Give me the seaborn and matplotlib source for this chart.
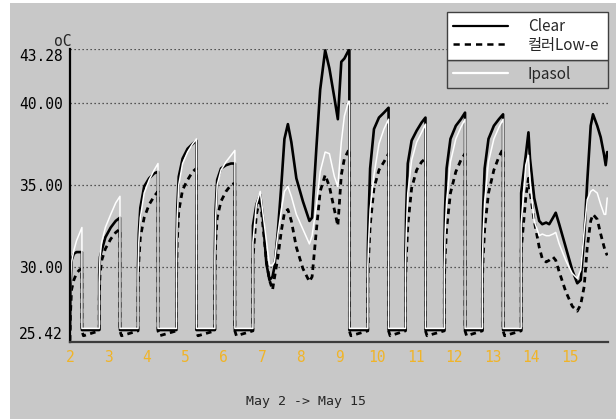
import matplotlib
matplotlib.use("Agg")
import matplotlib.pyplot as plt
import seaborn as sns
import pandas as pd
from matplotlib.lines import Line2D
from matplotlib.patches import Rectangle

# ---------------- data ----------------
series_names = ["Clear", "컬러Low-e", "Ipasol"]
day_ticks = [2, 3, 4, 5, 6, 7, 8, 9, 10, 11, 12, 13, 14, 15]
y_ticks = [25.42, 30.00, 35.00, 40.00, 43.28]
x_label = "May 2 -> May 15"
y_unit = "oC"

# time in days of May
t = [
    2.00, 2.01, 2.04, 2.10, 2.17, 2.24, 2.31,
    2.31, 2.35, 2.76,
    2.76, 2.78, 2.825, 2.92, 3.06, 3.19, 3.30,
    3.30, 3.34, 3.77,
    3.77, 3.79, 3.83, 3.93, 4.06, 4.19, 4.29,
    4.29, 4.33, 4.77,
    4.77, 4.79, 4.83, 4.93, 5.06, 5.19, 5.29,
    5.29, 5.33, 5.77,
    5.77, 5.79, 5.83, 5.93, 6.06, 6.19, 6.29,
    6.29, 6.33, 6.76,
    6.76, 6.85, 6.95, 7.02, 7.11, 7.19, 7.27, 7.32, 7.41, 7.50, 7.58, 7.67, 7.76, 7.89,
    8.06, 8.23, 8.30, 8.41, 8.51, 8.64, 8.75, 8.88, 8.97, 9.06, 9.14, 9.25, 9.27,
    9.27, 9.31, 9.75,
    9.75, 9.77, 9.81, 9.91, 10.04, 10.17, 10.29,
    10.29, 10.33, 10.73,
    10.73, 10.75, 10.79, 10.89, 11.02, 11.15, 11.25,
    11.25, 11.29, 11.74,
    11.74, 11.76, 11.80, 11.90, 12.04, 12.17, 12.28,
    12.28, 12.32, 12.73,
    12.73, 12.75, 12.79, 12.89, 13.03, 13.16, 13.27,
    13.27, 13.31, 13.74,
    13.74, 13.86, 13.93, 13.97, 14.08, 14.21, 14.29, 14.39, 14.47, 14.57, 14.64, 14.73,
    14.90, 15.07, 15.20, 15.29, 15.38, 15.46, 15.55, 15.61, 15.72, 15.81, 15.90, 15.94, 15.98,
]

clear = [
    26.2, 28.5, 30.4, 30.8, 30.9, 30.9, 30.9,
    26.15, 26.15, 26.15,
    29.5, 30.6, 31.0, 31.8, 32.4, 32.8, 33.0,
    26.15, 26.15, 26.15,
    30.0, 32.0, 33.6, 34.9, 35.4, 35.7, 35.8,
    26.15, 26.15, 26.15,
    31.0, 33.5, 35.5, 36.6, 37.2, 37.5, 37.7,
    26.15, 26.15, 26.15,
    31.0, 33.5, 35.3, 36.0, 36.2, 36.3, 36.3,
    26.15, 26.15, 26.15,
    32.5, 33.8, 34.4, 33.0, 30.2, 29.2, 29.4, 30.0, 32.2, 35.0, 37.8, 38.7, 37.6, 35.4,
    34.0, 32.8, 33.0, 37.2, 40.8, 43.2, 42.1, 40.3, 39.0, 42.5, 42.7, 43.2, 43.2,
    26.15, 26.15, 26.15,
    31.0, 33.0, 36.0, 38.4, 39.1, 39.4, 39.7,
    26.15, 26.15, 26.15,
    31.0, 33.5, 36.3, 37.7, 38.3, 38.8, 39.1,
    26.15, 26.15, 26.15,
    31.0, 33.5, 36.0, 37.8, 38.6, 39.0, 39.4,
    26.15, 26.15, 26.15,
    31.0, 33.5, 36.0, 37.8, 38.6, 39.0, 39.3,
    26.15, 26.15, 26.15,
    34.5, 36.8, 38.2, 36.6, 34.2, 32.8, 32.6, 32.7, 32.6, 33.0, 33.3, 32.6,
    31.2, 29.8, 29.0, 29.2, 31.8, 35.2, 38.6, 39.3, 38.6, 37.9, 36.8, 36.2, 37.0,
]

lowe = [
    25.5, 27.0, 28.6, 29.2, 29.6, 29.8, 29.9,
    26.1, 25.8, 26.1,
    28.0, 29.5, 30.4, 31.1, 31.7, 32.1, 32.3,
    26.1, 25.8, 26.1,
    28.5, 30.3, 31.8, 33.0, 33.8, 34.3, 34.6,
    26.1, 25.8, 26.1,
    29.0, 31.5, 33.4, 34.7, 35.3, 35.8, 36.0,
    26.1, 25.8, 26.1,
    29.0, 31.5, 33.0, 34.0, 34.6, 35.0, 35.1,
    26.1, 25.8, 26.1,
    30.5, 33.2, 34.2, 32.5, 30.4, 29.2, 28.6, 29.3, 30.6, 32.2, 33.3, 33.5, 32.8, 31.2,
    29.9, 29.1, 29.4, 32.2, 34.6, 35.6, 34.9, 33.5, 32.5, 35.6, 36.6, 37.1, 37.2,
    26.1, 25.8, 26.1,
    29.0, 30.5, 32.5, 34.8, 35.9, 36.4, 36.9,
    26.1, 25.8, 26.1,
    29.0, 30.5, 32.5, 34.8, 35.9, 36.4, 36.6,
    26.1, 25.8, 26.1,
    29.0, 30.5, 32.3, 34.5, 35.8, 36.5, 36.9,
    26.1, 25.8, 26.1,
    29.0, 30.5, 32.3, 34.5, 35.9, 36.7, 37.2,
    26.1, 25.8, 26.1,
    31.0, 34.2, 35.4, 34.6, 32.8, 31.2, 30.5, 30.3, 30.4, 30.6, 30.4, 29.7,
    28.5, 27.6, 27.3, 27.7, 28.8, 31.2, 32.8, 33.2, 32.9, 32.0, 31.2, 30.9, 30.7,
]

ipasol = [
    26.25, 28.8, 30.3, 31.0, 31.6, 32.0, 32.4,
    26.25, 26.25, 26.25,
    29.0, 30.6, 31.5, 32.4, 33.2, 33.9, 34.3,
    26.25, 26.25, 26.25,
    29.5, 31.5, 33.0, 34.5, 35.3, 35.9, 36.3,
    26.25, 26.25, 26.25,
    30.5, 33.0, 35.0, 36.3, 37.0, 37.5, 37.8,
    26.25, 26.25, 26.25,
    30.5, 33.0, 35.0, 35.9, 36.4, 36.8, 37.1,
    26.25, 26.25, 26.25,
    31.5, 33.8, 34.6, 33.3, 31.6, 30.1, 30.1, 30.3, 32.0, 33.5, 34.6, 34.9, 34.3, 33.2,
    32.3, 31.4, 31.9, 33.7, 35.8, 37.0, 36.9, 35.5, 34.9, 37.6, 39.2, 40.1, 40.1,
    26.25, 26.25, 26.25,
    30.0, 31.5, 33.5, 35.6, 37.5, 38.4, 39.0,
    26.25, 26.25, 26.25,
    30.0, 32.0, 34.5, 36.5, 37.6, 38.2, 38.7,
    26.25, 26.25, 26.25,
    30.0, 32.0, 34.0, 36.4, 37.8, 38.5, 39.0,
    26.25, 26.25, 26.25,
    30.0, 32.0, 34.0, 36.4, 37.8, 38.5, 39.0,
    26.25, 26.25, 26.25,
    32.6, 36.2, 36.8, 35.2, 32.8, 31.9, 32.0, 31.9, 31.9, 32.0, 32.1, 31.4,
    30.4, 29.6, 29.3, 29.8, 32.2, 34.1, 34.6, 34.7, 34.5, 33.8, 33.2, 33.2, 34.2,
]

assert len(t) == len(clear) == len(lowe) == len(ipasol)

# ---------------- figure ----------------
W, H = 616, 419
BG = "#c8c8c8"
sns.set_style("white")
plt.rcParams["font.family"] = ["DejaVu Sans Mono", "DejaVu Sans"]

fig = plt.figure(figsize=(W / 100, H / 100), dpi=100, facecolor="white")
fig.add_artist(Rectangle((10 / W, 0), 1 - 10 / W, 1 - 3 / H, transform=fig.transFigure,
                         facecolor=BG, edgecolor="none", zorder=-10))

ax = fig.add_axes([70 / W, 1 - 342 / H, (608 - 70) / W, (342 - 49) / H])
ax.set_facecolor(BG)

frames = []
for name, vals in zip(series_names, [clear, lowe, ipasol]):
    frames.append(pd.DataFrame({"t": t, "temp": vals, "series": name}))
df = pd.concat(frames, ignore_index=True)

styles = {
    "Clear": dict(color="black", lw=1.9, ls="-", zorder=3),
    "컬러Low-e": dict(color="black", lw=2.0, ls=(0, (2.0, 1.6)), zorder=4),
    "Ipasol": dict(color="white", lw=1.1, ls="-", zorder=5),
}
for name in series_names:
    st = styles[name]
    sns.lineplot(data=df[df["series"] == name], x="t", y="temp", estimator=None,
                 sort=False, color=st["color"], lw=st["lw"], linestyle=st["ls"],
                 zorder=st["zorder"], ax=ax, legend=False)

ax.set_xlim(2, 16)
ax.set_ylim(25.42, 43.28)

# grid (dotted horizontal)
for yv in y_ticks[1:]:
    ax.axhline(yv, color="#303030", lw=0.9, ls=(0, (1, 2.2)), zorder=1)

for s in ["top", "right"]:
    ax.spines[s].set_visible(False)
ax.spines["left"].set_color("black")
ax.spines["left"].set_linewidth(1.6)
ax.spines["bottom"].set_color("#3c3c3c")
ax.spines["bottom"].set_linewidth(1.6)
ax.spines["left"].set_zorder(6)
ax.spines["bottom"].set_zorder(6)

ax.set_yticks(y_ticks)
ax.set_yticklabels([f"{v:.2f}" for v in y_ticks])
ax.tick_params(axis="y", direction="out", length=4, width=1, color="black",
               labelsize=10.5, pad=1, labelcolor="black")
lbls = ax.get_yticklabels()
lbls[0].set_va("bottom")
lbls[-1].set_va("top")

ORANGE = "#f0b428"
ax.set_xticks(day_ticks)
ax.set_xticklabels([str(d) for d in day_ticks])
ax.tick_params(axis="x", direction="inout", length=7, width=1, color=ORANGE,
               labelcolor=ORANGE, labelsize=10.5, pad=2)
ax.set_xlabel("")
ax.set_ylabel("")

fig.text(63 / W, 1 - 42 / H, y_unit, ha="center", va="center", fontsize=10.5,
         family=["DejaVu Sans Mono"])
fig.text(306 / W, 1 - 401 / H, x_label, ha="center", va="center", fontsize=9.5,
         family=["DejaVu Sans Mono"])

# ---------------- legend ----------------
leg_font = {"family": ["Noto Sans CJK KR", "DejaVu Sans"], "size": 11}
hA = [Line2D([], [], color="black", lw=1.6),
      Line2D([], [], color="black", lw=1.8, ls=(0, (2.5, 2.0)))]
legA = fig.legend(hA, series_names[:2], loc="upper left",
                  bbox_to_anchor=(447 / W, 1 - 60 / H, 161 / W, 48 / H),
                  mode="expand", borderaxespad=0, prop=leg_font, frameon=True,
                  fancybox=False, facecolor="white", edgecolor="#404040", framealpha=1,
                  handlelength=3.6, handletextpad=1.3, borderpad=0.4, labelspacing=0.1)
legA.get_frame().set_linewidth(1.0)
legA.set_zorder(10)
hB = [Line2D([], [], color="white", lw=1.6)]
legB = fig.legend(hB, series_names[2:], loc="upper left",
                  bbox_to_anchor=(447 / W, 1 - 88 / H, 161 / W, 28 / H),
                  mode="expand", borderaxespad=0, prop=leg_font, frameon=True,
                  fancybox=False, facecolor=BG, edgecolor="#404040", framealpha=1,
                  handlelength=3.6, handletextpad=1.3, borderpad=0.36, labelspacing=0.1)
legB.get_frame().set_linewidth(1.0)
legB.set_zorder(9)

fig.savefig("out.png", dpi=100, facecolor=fig.get_facecolor())
